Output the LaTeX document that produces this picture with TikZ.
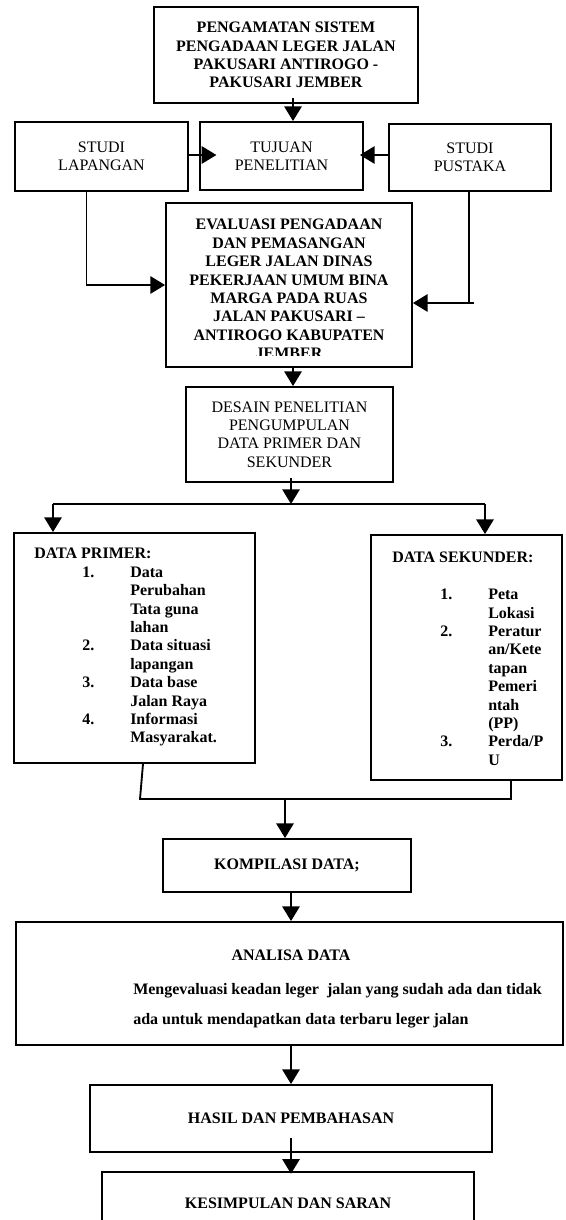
\documentclass[tikz,border=0pt]{standalone}
\usepackage{fontspec}
\setmainfont{Liberation Serif}
\usetikzlibrary{arrows.meta,calc}
\newcommand\myfs{\fontsize{12pt}{13.8pt}\selectfont}
\newcommand\itm[1]{\hspace*{36pt}\makebox[36pt][l]{#1}}
\begin{document}
\begin{tikzpicture}[x=0.75pt,y=-0.75pt,
  box/.style={draw,line width=1.4pt,inner sep=0pt,align=center,font=\myfs},
  bbox/.style={box,font=\myfs\bfseries},
  txt/.style={inner sep=0pt,font=\myfs\bfseries},
  ln/.style={line width=1.4pt},
  arr/.style={line width=1.4pt,-{Triangle[length=11pt,width=13pt]}}]
\useasboundingbox (0,0) rectangle (565,1220);
\clip (0,0) rectangle (565,1220);
\fill[white] (0,0) rectangle (565,1220);

% boxes
\node[bbox,minimum width=198pt,minimum height=72pt] (top) at (286,55)
  {PENGAMATAN SISTEM\\PENGADAAN LEGER JALAN\\PAKUSARI ANTIROGO -\\PAKUSARI JEMBER};
\node[box,minimum width=129.75pt,minimum height=51.75pt] (lap) at (101.5,156.5) {STUDI\\LAPANGAN};
\node[box,minimum width=122.25pt,minimum height=51pt] (tuj) at (281.5,156) {TUJUAN\\PENELITIAN};
\node[box,minimum width=121.5pt,minimum height=50.25pt] (pus) at (470,157.5) {STUDI\\PUSTAKA};

\node[box,minimum width=184.5pt,minimum height=123pt] (ev) at (289,285) {};
\begin{scope}
  \clip (166,203) rectangle (412,355.5);
  \node[txt,align=center] (evt) at (289,289)
   {EVALUASI PENGADAAN\\DAN PEMASANGAN\\LEGER JALAN DINAS\\PEKERJAAN UMUM BINA\\MARGA PADA RUAS\\JALAN PAKUSARI --\\ANTIROGO KABUPATEN\\JEMBER};
\end{scope}

\node[box,minimum width=155.25pt,minimum height=71.25pt] (des) at (289.5,434.5)
  {DESAIN PENELITIAN\\PENGUMPULAN\\DATA PRIMER DAN\\SEKUNDER};

\node[box,minimum width=180.75pt,minimum height=172.5pt] (pri) at (134.5,648) {};
\node[txt,anchor=north west,align=left] (prit) at (34,548)
  {DATA PRIMER:\\
   \itm{1.}Data\\ \itm{}Perubahan\\ \itm{}Tata guna\\ \itm{}lahan\\
   \itm{2.}Data situasi\\ \itm{}lapangan\\
   \itm{3.}Data base\\ \itm{}Jalan Raya\\
   \itm{4.}Informasi\\ \itm{}Masyarakat.};

\node[box,minimum width=143.25pt,minimum height=183.75pt] (sek) at (466.5,657.5) {};
\node[txt,anchor=north west,align=left] (sekt) at (392,552)
  {DATA SEKUNDER:\\ \mbox{}\\
   \itm{1.}Peta\\ \itm{}Lokasi\\
   \itm{2.}Peratur\\ \itm{}an/Kete\\ \itm{}tapan\\ \itm{}Pemeri\\ \itm{}ntah\\ \itm{}(PP)\\
   \itm{3.}Perda/P\\ \itm{}U};

\node[bbox,minimum width=186pt,minimum height=39.75pt] (kom) at (287,865.5) {KOMPILASI DATA;};

\node[box,minimum width=410.25pt,minimum height=92.25pt] (ana) at (289.5,983.5) {};
\node[txt] (anat) at (291,955) {ANALISA DATA};
\node[txt,anchor=north west,align=left,font=\fontsize{12pt}{22.5pt}\selectfont\bfseries] (anab) at (133,983)
  {Mengevaluasi keadan leger\ \ jalan yang sudah ada dan tidak\\ada untuk mendapatkan data terbaru leger jalan};

\node[bbox,minimum width=301.5pt,minimum height=50.25pt] (has) at (291,1118.5) {HASIL DAN PEMBAHASAN};
\node[bbox,minimum width=279pt,minimum height=46.5pt] (kes) at (288,1203) {KESIMPULAN DAN SARAN};

% connectors
\coordinate (ax1) at (293,0);
\coordinate (yl) at (0,155);
\coordinate (lc) at (86.5,285);
\coordinate (rc) at (469,303);
\coordinate (rc2) at (474,303);
\coordinate (sp) at (291,504);
\coordinate (sl) at (53,504);
\coordinate (sr) at (485,504);
\coordinate (jp) at (143,0);
\coordinate (jl) at (140,799);
\coordinate (jr) at (511,799);
\coordinate (jm) at (285,799);
\coordinate (ax3) at (291,0);

\draw[arr] ($(top.south -| ax1)+(0,-6)$) -- (tuj.north -| ax1);
\draw[arr,shorten >=-13pt] (lap.east |- yl) -- (tuj.west |- yl);
\draw[arr,shorten >=-3pt] (pus.west |- yl) -- (tuj.east |- yl);
\draw[arr] (lap.south -| lc) |- (ev.west |- lc);
\draw[ln] (pus.south -| rc) -- (rc);
\draw[arr] (rc2) -- (ev.east |- rc);
\draw[arr] (ev.south -| ax1) -- (des.north -| ax1);
\draw[arr] ($(des.south -| sp)+(0,-5)$) -- (sp);
\draw[ln] (sl) -- (sr);
\draw[arr] (sl) -- (pri.north -| sl);
\draw[arr] (sr) -- (sek.north -| sr);
\draw[ln] (pri.south -| jp) -- (jl) -- (jr) -- (sek.south -| jr);
\draw[arr] (jm) -- (kom.north -| jm);
\draw[arr] (kom.south -| ax3) -- (ana.north -| ax3);
\draw[arr] (ana.south -| ax3) -- (has.north -| ax3);
\draw[arr,shorten >=-2pt] ($(has.south -| ax3)+(0,-15)$) -- (kes.north -| ax3);
\end{tikzpicture}
\end{document}
